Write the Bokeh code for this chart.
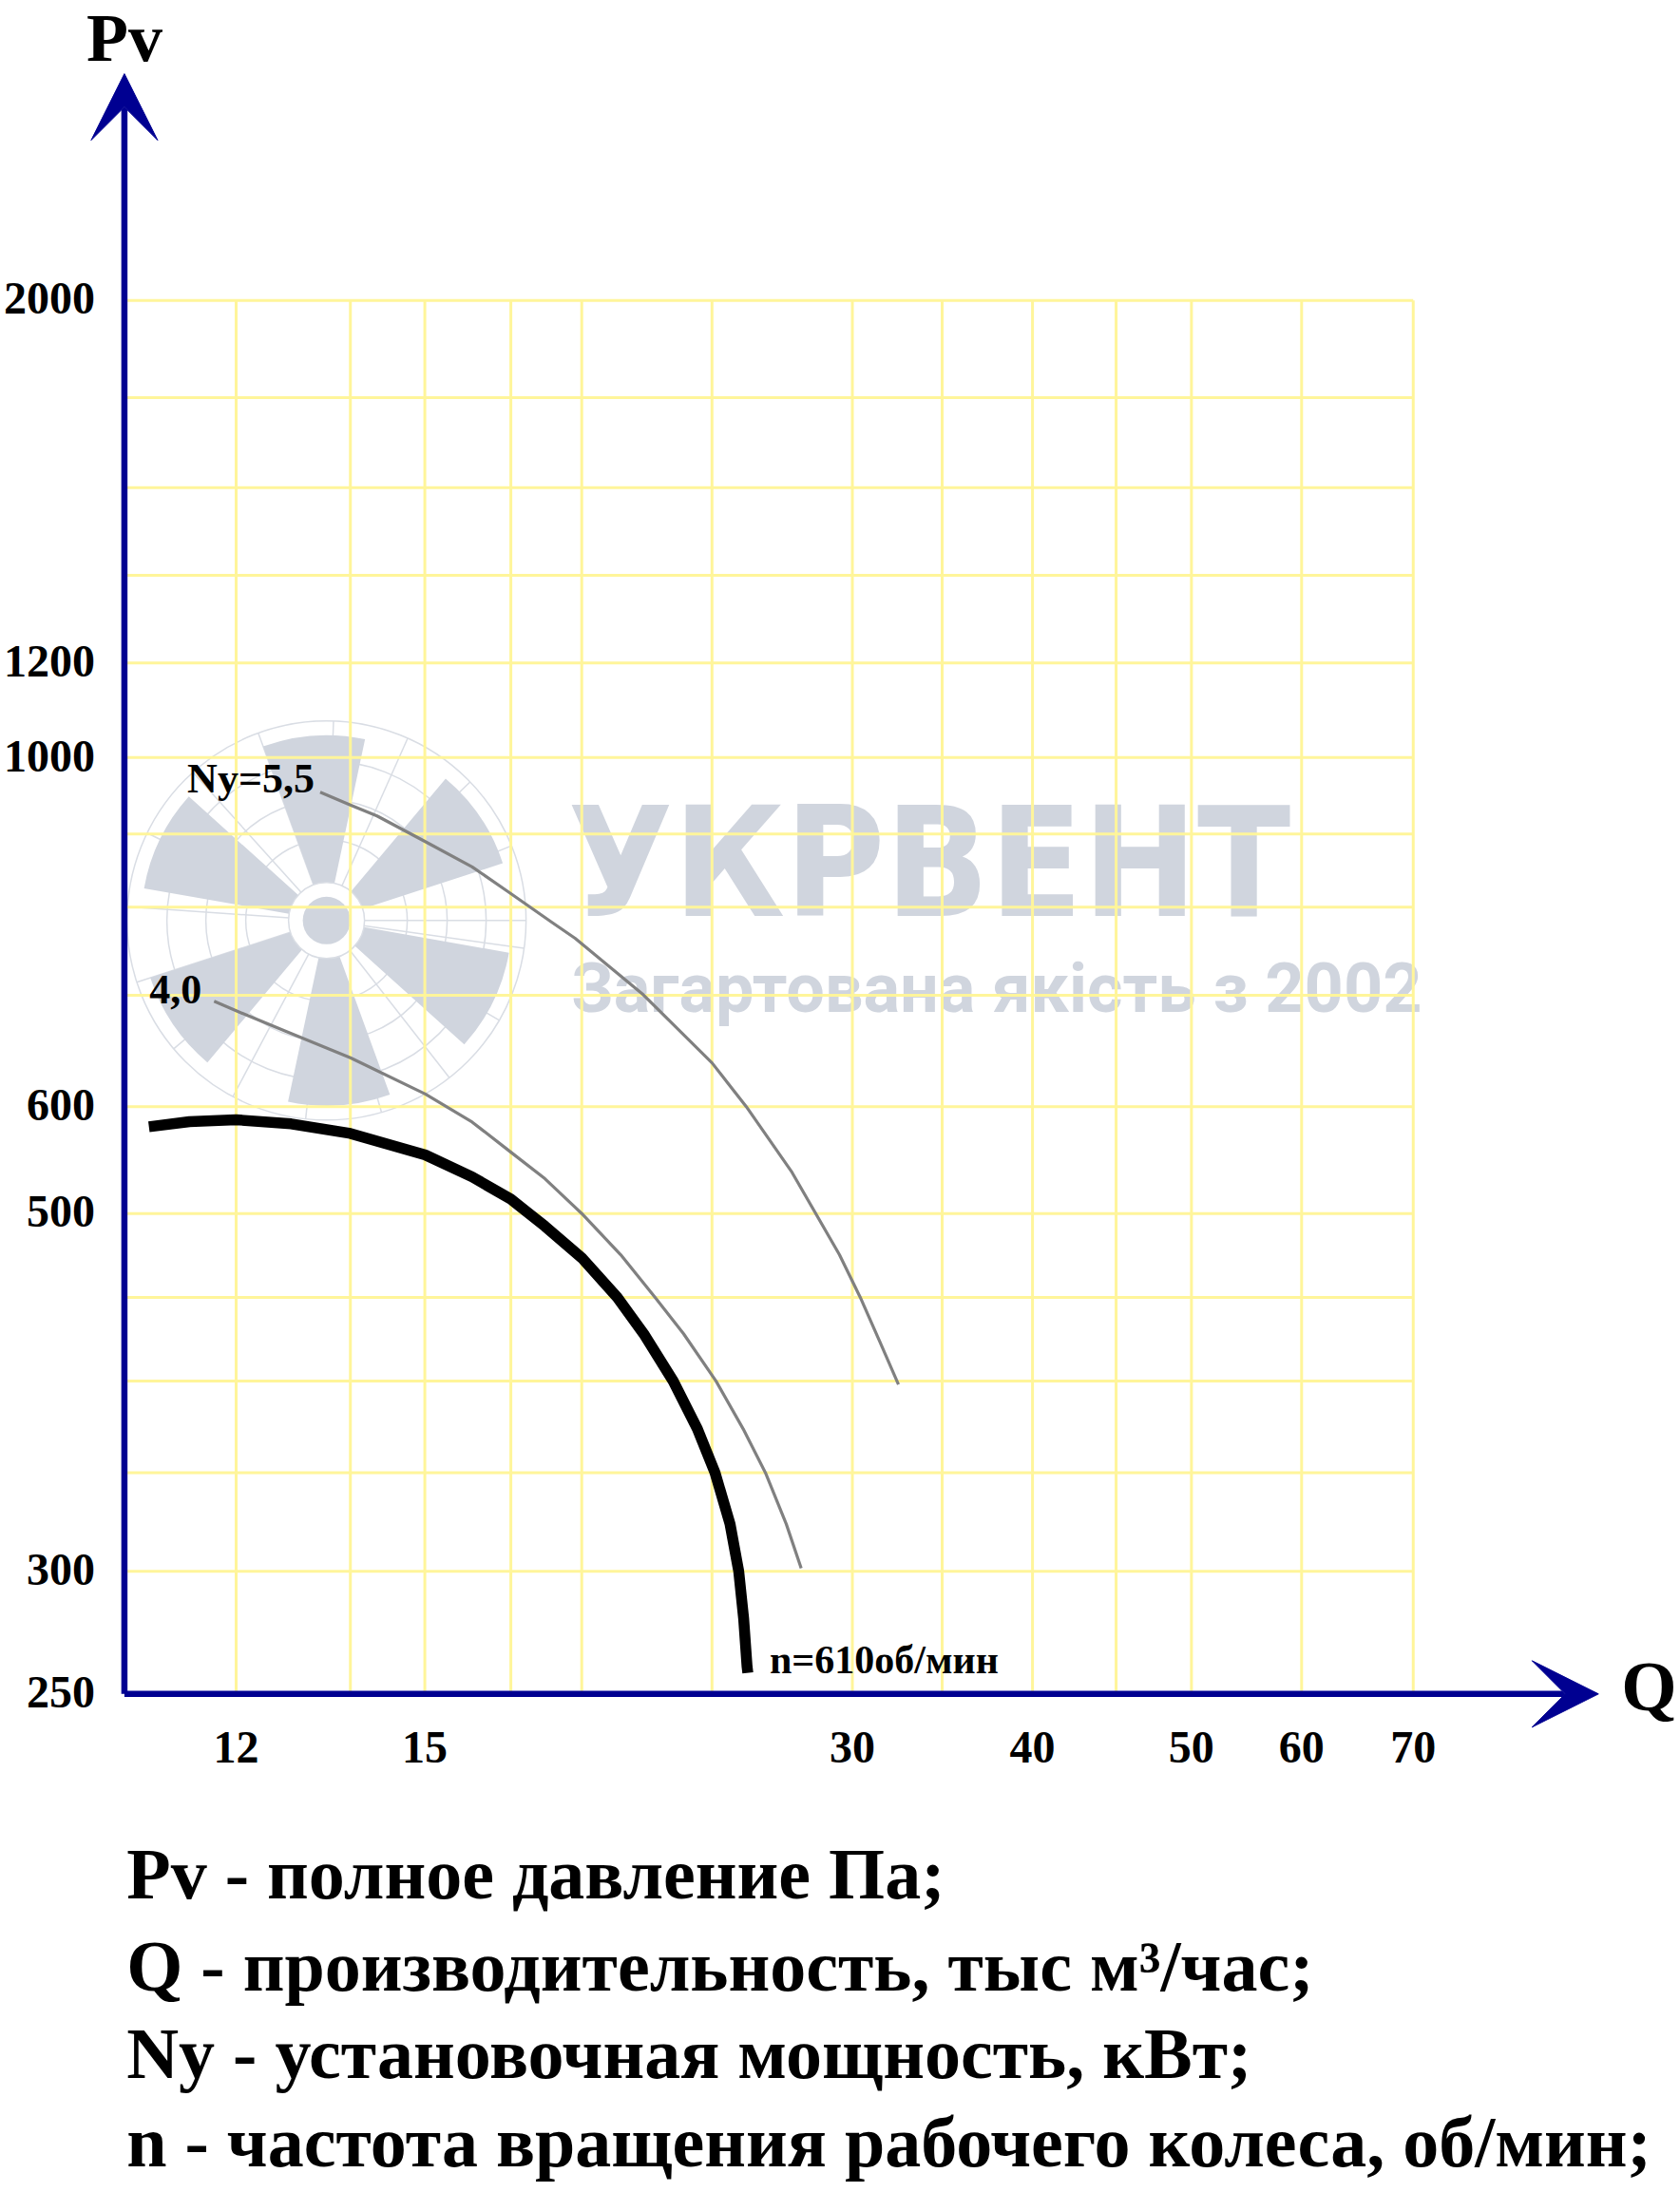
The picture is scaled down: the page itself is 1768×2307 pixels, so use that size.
import numpy as np
from bokeh.plotting import figure
from bokeh.models import Range1d, Arrow, VeeHead
from bokeh.embed import file_html
from bokeh.resources import INLINE
from bokeh.core.properties import value

# ---------------- data ----------------
# n = 610 rpm characteristic (thick black)
Q_610 = [10.53, 11.19, 12.0, 13.03, 14.24, 15.93, 17.09, 18.11, 19.06, 20.14, 21.24, 22.10,
         23.10, 23.95, 24.59, 25.15, 25.48, 25.67, 25.80, 25.83]
PV_610 = [582.8, 587.3, 588.9, 585.3, 577.0, 558.8, 540.8, 523.1, 502.4, 479.3, 451.8, 427.9,
          398.7, 371.3, 347.8, 322.2, 300.2, 279.6, 260.5, 258.0]
# Ny = 4,0 kW line
Q_N40 = [11.61, 12.0, 12.92, 14.24, 15.93, 17.09, 18.11, 19.06, 20.14, 21.35, 22.48, 23.46,
         24.63, 25.65, 26.52, 27.36, 27.98]
PV_N40 = [702.8, 692.9, 672.2, 646.0, 612.0, 586.9, 561.1, 539.3, 512.0, 481.5, 451.8, 427.9,
          398.7, 371.3, 347.8, 322.2, 301.6]
# Ny = 5,5 kW line
Q_N55 = [13.61, 14.24, 14.82, 15.92, 17.09, 18.11, 19.25, 19.94, 22.09, 24.48, 25.77, 27.60,
         29.63, 30.57, 31.45, 32.37]
PV_N55 = [960.2, 942.0, 926.7, 892.2, 858.9, 825.3, 790.9, 772.1, 709.6, 641.1, 600.6, 544.4,
          481.5, 451.8, 423.8, 396.7]

CURVE_LABELS = ["n=610об/мин", "4,0", "Ny=5,5"]

# tick marks (positions as drawn on the picture) and their labels
X_TICKS = [12, 15.92, 30.21, 39.57, 50.21, 59.22, 70]
X_TICK_LABELS = ["12", "15", "30", "40", "50", "60", "70"]
Y_TICKS = [250, 300.2, 512.0, 600.6, 1011, 1164.5, 2000]
Y_TICK_LABELS = ["250", "300", "500", "600", "1000", "1200", "2000"]

# grid lines of the chart paper
X_GRID = [12, 14.24, 15.92, 18.11, 20.14, 24.48, 30.21, 34.56, 39.57, 44.85, 50.21, 59.22, 70]
Y_GRID = [300.2, 347.8, 398.7, 451.8, 512.0, 600.6, 709.1, 808.8, 902.0, 1011, 1164.5, 1327,
          1512.6, 1729.6, 2000]

LEGEND = [
    "Pv - полное давление Па;",
    "Q - производительность, тыс м³/час;",
    "Ny - установочная мощность, кВт;",
    "n - частота вращения рабочего колеса, об/мин;",
]

# ---------------- layout constants ----------------
W, H = 1768, 2300
X_LO, X_HI = 8.43, 104.47
Y_LO, Y_HI = 120.0, 3129
X_AXIS, Y_AXIS = 10.15, 250          # where the two axes cross
X_ARROW, Y_ARROW = 92.4, 2805        # arrow tips
GRID_X_MAX, GRID_Y_MAX = 70, 2000

NAVY = "#000091"
GRID_C = "#fff59a"
WM = "#d0d5de"
WM_LINE = "#d9dde4"
SERIF = value("Liberation Serif")
K = 0.37   # baseline correction (fraction of font size)

# watermark (logo) placement
FAN_X, FAN_Y = 13.74, 792.8
BLADE_ANG = [94, 34, -26, -86, -146, 154]
RINGS = [210, 168, 127, 85]
RAYS = list(range(0, 360, 22))

p = figure(width=W, height=H, x_axis_type="log", y_axis_type="log",
           x_range=Range1d(X_LO, X_HI), y_range=Range1d(Y_LO, Y_HI),
           output_backend="svg", toolbar_location=None, min_border=0,
           x_axis_location=None, y_axis_location=None)
p.outline_line_color = None
p.grid.visible = False
p.background_fill_color = "white"
p.border_fill_color = "white"

# ---------------- watermark ----------------
p.ray(x=[FAN_X] * len(RAYS), y=[FAN_Y] * len(RAYS), length=210, length_units="screen",
      angle=np.deg2rad(RAYS).tolist(), line_color=WM_LINE, line_width=1.5)
p.circle(x=[FAN_X] * len(RINGS), y=[FAN_Y] * len(RINGS), radius=RINGS, radius_units="screen",
         fill_color=None, line_color=WM_LINE, line_width=1.5)
p.annular_wedge(x=[FAN_X] * 6, y=[FAN_Y] * 6, inner_radius=40, outer_radius=195,
                inner_radius_units="screen", outer_radius_units="screen",
                start_angle=np.deg2rad([a - 16 for a in BLADE_ANG]).tolist(),
                end_angle=np.deg2rad([a + 16 for a in BLADE_ANG]).tolist(),
                fill_color=WM, line_color=None)
p.circle(x=[FAN_X], y=[FAN_Y], radius=40, radius_units="screen",
         fill_color="white", line_color=WM_LINE, line_width=1.5)
p.circle(x=[FAN_X], y=[FAN_Y], radius=25, radius_units="screen",
         fill_color=WM, line_color=None)

WM_FONT = value("'Liberation Sans Narrow', 'DejaVu Sans Condensed', Roboto, sans-serif")
p.text(x=[19.72], y=[794.2], text=["УКРВЕНТ"], text_font=WM_FONT,
       text_font_style="bold", text_font_size="160px", text_color=WM,
       text_align="left", text_baseline="alphabetic", y_offset=-K * 160)
p.text(x=[19.83], y=[689.5], text=["Загартована якість з 2002"], text_font=value("Roboto"),
       text_font_style="bold", text_font_size="72px", text_color=WM,
       text_align="left", text_baseline="alphabetic", y_offset=-K * 72)

# ---------------- grid ----------------
p.segment(x0=X_GRID, y0=[Y_AXIS] * len(X_GRID), x1=X_GRID, y1=[GRID_Y_MAX] * len(X_GRID),
          line_color=GRID_C, line_width=3)
p.segment(x0=[X_AXIS] * len(Y_GRID), y0=Y_GRID, x1=[GRID_X_MAX] * len(Y_GRID), y1=Y_GRID,
          line_color=GRID_C, line_width=3)

# ---------------- curves ----------------
p.line(Q_N55, PV_N55, line_color="#808080", line_width=3.2, line_join="round")
p.line(Q_N40, PV_N40, line_color="#808080", line_width=3.2, line_join="round")
p.line(Q_610, PV_610, line_color="black", line_width=11.5, line_join="round")

p.text(x=[Q_N55[0]], y=[PV_N55[0]], text=[CURVE_LABELS[2]], text_font=SERIF,
       text_font_style="bold", text_font_size="44px", text_color="black",
       text_align="right", text_baseline="alphabetic", x_offset=-6, y_offset=2 - K * 44)
p.text(x=[Q_N40[0]], y=[PV_N40[0]], text=[CURVE_LABELS[1]], text_font=SERIF,
       text_font_style="bold", text_font_size="44px", text_color="black",
       text_align="right", text_baseline="alphabetic", x_offset=-13, y_offset=4 - K * 44)
p.text(x=[Q_610[-1]], y=[PV_610[-1]], text=[CURVE_LABELS[0]], text_font=SERIF,
       text_font_style="bold", text_font_size="42px", text_color="black",
       text_align="left", text_baseline="alphabetic", x_offset=23, y_offset=2 - K * 42)

# ---------------- tick labels ----------------
p.text(x=X_TICKS, y=[Y_AXIS] * len(X_TICKS), text=X_TICK_LABELS, text_font=SERIF,
       text_font_style="bold", text_font_size="48px", text_color="black",
       text_align="center", text_baseline="alphabetic", y_offset=74 - K * 48)
p.text(x=[X_AXIS] * len(Y_TICKS), y=Y_TICKS, text=Y_TICK_LABELS, text_font=SERIF,
       text_font_style="bold", text_font_size="48px", text_color="black",
       text_align="right", text_baseline="alphabetic", x_offset=-31, y_offset=16 - K * 48)

# ---------------- axes with arrows ----------------
p.add_layout(Arrow(end=VeeHead(size=70, fill_color=NAVY, line_color=NAVY),
                   x_start=X_AXIS, y_start=Y_AXIS, x_end=X_AXIS, y_end=Y_ARROW,
                   line_color=NAVY, line_width=6.5))
p.add_layout(Arrow(end=VeeHead(size=70, fill_color=NAVY, line_color=NAVY),
                   x_start=X_AXIS, y_start=Y_AXIS, x_end=X_ARROW, y_end=Y_AXIS,
                   line_color=NAVY, line_width=6.5))

p.text(x=[X_AXIS], y=[Y_ARROW], text=["Pv"], text_font=SERIF, text_font_style="bold",
       text_font_size="72px", text_color="black", text_align="center",
       text_baseline="alphabetic", y_offset=-11 - K * 72)
p.text(x=[X_ARROW], y=[Y_AXIS], text=["Q"], text_font=SERIF, text_font_style="bold",
       text_font_size="75px", text_color="black", text_align="left",
       text_baseline="alphabetic", x_offset=24, y_offset=19 - K * 75)

# ---------------- legend below the chart ----------------
LEGEND_DY = [217.7, 314.4, 406.0, 499.4]
p.text(x=[X_AXIS] * 4, y=[Y_AXIS] * 4, text=LEGEND, text_font=SERIF,
       text_font_style="bold", text_font_size="76px", text_color="black",
       text_align="left", text_baseline="alphabetic", x_offset=2.3,
       y_offset=[d - K * 76 for d in LEGEND_DY])

open("out.html", "w").write(file_html(p, INLINE))
